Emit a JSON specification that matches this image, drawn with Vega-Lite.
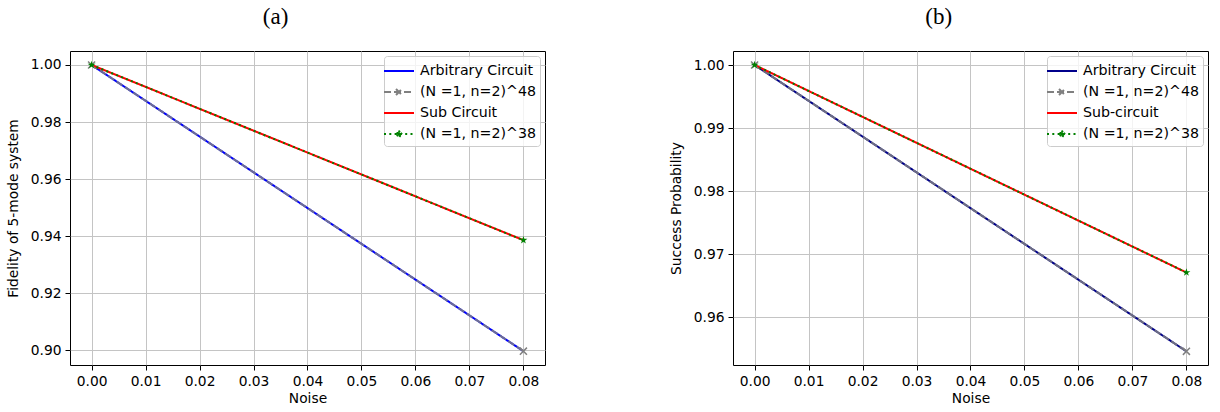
{
  "$schema": "https://vega.github.io/schema/vega-lite/v6.json",
  "padding": {"left": 5, "top": 5, "right": 5, "bottom": 5},
  "background": "white",
  "datasets": {
    "a": [
      {"series": "Arbitrary Circuit", "noise": 0.0, "value": 1.0},
      {"series": "Arbitrary Circuit", "noise": 0.08, "value": 0.8997},
      {"series": "(N =1, n=2)^48", "noise": 0.0, "value": 1.0},
      {"series": "(N =1, n=2)^48", "noise": 0.08, "value": 0.8997},
      {"series": "Sub Circuit", "noise": 0.0, "value": 1.0},
      {"series": "Sub Circuit", "noise": 0.08, "value": 0.9386},
      {"series": "(N =1, n=2)^38", "noise": 0.0, "value": 1.0},
      {"series": "(N =1, n=2)^38", "noise": 0.08, "value": 0.9386}
    ],
    "b": [
      {"series": "Arbitrary Circuit", "noise": 0.0, "value": 1.0},
      {"series": "Arbitrary Circuit", "noise": 0.08, "value": 0.9546},
      {"series": "(N =1, n=2)^48", "noise": 0.0, "value": 1.0},
      {"series": "(N =1, n=2)^48", "noise": 0.08, "value": 0.9546},
      {"series": "Sub-circuit", "noise": 0.0, "value": 1.0},
      {"series": "Sub-circuit", "noise": 0.08, "value": 0.9671},
      {"series": "(N =1, n=2)^38", "noise": 0.0, "value": 1.0},
      {"series": "(N =1, n=2)^38", "noise": 0.08, "value": 0.9671}
    ]
  },
  "config": {
    "font": "DejaVu Sans",
    "view": {"stroke": "#000000", "strokeWidth": 1},
    "axis": {
      "domain": false,
      "grid": true,
      "gridColor": "#c4c4c4",
      "gridWidth": 1,
      "tickColor": "#000000",
      "tickSize": 5,
      "tickWidth": 1,
      "labelFont": "DejaVu Sans",
      "labelFontSize": 13.8,
      "labelColor": "#000000",
      "labelPadding": 4,
      "titleFont": "DejaVu Sans",
      "titleFontSize": 13.8,
      "titleFontWeight": "normal",
      "titleColor": "#000000"
    },
    "legend": {
      "orient": "top-right",
      "offset": 5,
      "padding": 4,
      "strokeColor": "#cccccc",
      "fillColor": "rgba(255,255,255,0.8)",
      "cornerRadius": 3,
      "labelFont": "DejaVu Sans",
      "labelFontSize": 14.2,
      "labelColor": "#000000",
      "labelOffset": 10,
      "symbolType": "M-1.5,0L1.5,0",
      "symbolSize": 400,
      "symbolStrokeWidth": 2,
      "rowPadding": 2
    },
    "title": {
      "font": "Liberation Serif",
      "fontSize": 23,
      "fontWeight": "normal",
      "color": "#000000",
      "anchor": "middle",
      "frame": "bounds",
      "offset": 22
    }
  },
  "resolve": {
    "scale": {"color": "independent", "strokeDash": "independent", "x": "independent", "y": "independent"},
    "legend": {"color": "independent", "strokeDash": "independent"}
  },
  "spacing": 122,
  "hconcat": [
    {
      "title": "(a)",
      "width": 475,
      "height": 314,
      "data": {"name": "a"},
      "encoding": {
        "x": {"field": "noise", "type": "quantitative", "title": "Noise",
              "scale": {"domain": [-0.004, 0.084], "nice": false, "zero": false},
              "axis": {"values": [0, 0.01, 0.02, 0.03, 0.04, 0.05, 0.06, 0.07, 0.08], "format": ".2f"}},
        "y": {"field": "value", "type": "quantitative", "title": "Fidelity of 5-mode system",
              "scale": {"domain": [0.89484, 1.0049], "nice": false, "zero": false},
              "axis": {"values": [0.9, 0.92, 0.94, 0.96, 0.98, 1.0], "format": ".2f", "titlePadding": 10}}
      },
      "layer": [
        {
          "transform": [{"filter": "datum.series === 'Arbitrary Circuit'"}],
          "mark": {"type": "line", "strokeWidth": 2},
          "encoding": {
            "color": {"field": "series", "type": "nominal",
                      "scale": {"domain": ["Arbitrary Circuit", "(N =1, n=2)^48", "Sub Circuit", "(N =1, n=2)^38"],
                                "range": ["#0000ff", "#808080", "#ff0000", "#008000"]},
                      "legend": {"title": null,
                                 "encode": {"symbols": {"update": {
                                   "shape": {"signal": "datum.value === '(N =1, n=2)^48' ? 'M-1.5,0L1.5,0M-0.3,-0.3L0.3,0.3M-0.3,0.3L0.3,-0.3' : datum.value === '(N =1, n=2)^38' ? 'M-1.5,0L1.5,0M0,-0.35L0.079,-0.108L0.333,-0.108L0.127,0.041L0.206,0.283L0,0.134L-0.206,0.283L-0.127,0.041L-0.333,-0.108L-0.079,-0.108Z' : 'M-1.5,0L1.5,0'"},
                                   "fill": {"signal": "datum.value === '(N =1, n=2)^38' ? '#008000' : 'transparent'"}
                                 }}}}},
            "strokeDash": {"field": "series", "type": "nominal",
                      "scale": {"domain": ["Arbitrary Circuit", "(N =1, n=2)^48", "Sub Circuit", "(N =1, n=2)^38"],
                                "range": [[1, 0], [7, 3], [1, 0], [2, 3.3]]},
                      "legend": {"title": null}}
          }
        },
        {
          "transform": [{"filter": "datum.series === '(N =1, n=2)^48'"}],
          "mark": {"type": "line", "strokeWidth": 2, "opacity": 0.85},
          "encoding": {
            "color": {"field": "series", "type": "nominal"},
            "strokeDash": {"field": "series", "type": "nominal"}
          }
        },
        {
          "transform": [{"filter": "datum.series === 'Sub Circuit'"}],
          "mark": {"type": "line", "strokeWidth": 2},
          "encoding": {
            "color": {"field": "series", "type": "nominal"},
            "strokeDash": {"field": "series", "type": "nominal"}
          }
        },
        {
          "transform": [{"filter": "datum.series === '(N =1, n=2)^38'"}],
          "mark": {"type": "line", "strokeWidth": 2},
          "encoding": {
            "color": {"field": "series", "type": "nominal"},
            "strokeDash": {"field": "series", "type": "nominal"}
          }
        },
        {
          "transform": [{"filter": "datum.series === '(N =1, n=2)^48'"}],
          "mark": {"type": "point", "shape": "M-1,-1L1,1M-1,1L1,-1", "filled": false, "stroke": "#808080", "strokeWidth": 1.5, "size": 50, "opacity": 1},
          "encoding": {}
        },
        {
          "transform": [{"filter": "datum.series === '(N =1, n=2)^38'"}],
          "mark": {"type": "point", "shape": "M0,-1L0.2245,-0.309L0.951,-0.309L0.363,0.118L0.588,0.809L0,0.382L-0.588,0.809L-0.363,0.118L-0.951,-0.309L-0.2245,-0.309Z", "filled": true, "fill": "#008000", "size": 70, "opacity": 1},
          "encoding": {}
        }
      ]
    },
    {
      "title": "(b)",
      "width": 475,
      "height": 314,
      "data": {"name": "b"},
      "encoding": {
        "x": {"field": "noise", "type": "quantitative", "title": "Noise",
              "scale": {"domain": [-0.004, 0.084], "nice": false, "zero": false},
              "axis": {"values": [0, 0.01, 0.02, 0.03, 0.04, 0.05, 0.06, 0.07, 0.08], "format": ".2f"}},
        "y": {"field": "value", "type": "quantitative", "title": "Success Probability",
              "scale": {"domain": [0.95243, 1.00222], "nice": false, "zero": false},
              "axis": {"values": [0.96, 0.97, 0.98, 0.99, 1.0], "format": ".2f", "titlePadding": 10}}
      },
      "layer": [
        {
          "transform": [{"filter": "datum.series === 'Arbitrary Circuit'"}],
          "mark": {"type": "line", "strokeWidth": 2},
          "encoding": {
            "color": {"field": "series", "type": "nominal",
                      "scale": {"domain": ["Arbitrary Circuit", "(N =1, n=2)^48", "Sub-circuit", "(N =1, n=2)^38"],
                                "range": ["#00008b", "#808080", "#ff0000", "#008000"]},
                      "legend": {"title": null,
                                 "encode": {"symbols": {"update": {
                                   "shape": {"signal": "datum.value === '(N =1, n=2)^48' ? 'M-1.5,0L1.5,0M-0.3,-0.3L0.3,0.3M-0.3,0.3L0.3,-0.3' : datum.value === '(N =1, n=2)^38' ? 'M-1.5,0L1.5,0M0,-0.35L0.079,-0.108L0.333,-0.108L0.127,0.041L0.206,0.283L0,0.134L-0.206,0.283L-0.127,0.041L-0.333,-0.108L-0.079,-0.108Z' : 'M-1.5,0L1.5,0'"},
                                   "fill": {"signal": "datum.value === '(N =1, n=2)^38' ? '#008000' : 'transparent'"}
                                 }}}}},
            "strokeDash": {"field": "series", "type": "nominal",
                      "scale": {"domain": ["Arbitrary Circuit", "(N =1, n=2)^48", "Sub-circuit", "(N =1, n=2)^38"],
                                "range": [[1, 0], [7, 3], [1, 0], [2, 3.3]]},
                      "legend": {"title": null}}
          }
        },
        {
          "transform": [{"filter": "datum.series === '(N =1, n=2)^48'"}],
          "mark": {"type": "line", "strokeWidth": 2, "opacity": 0.85},
          "encoding": {
            "color": {"field": "series", "type": "nominal"},
            "strokeDash": {"field": "series", "type": "nominal"}
          }
        },
        {
          "transform": [{"filter": "datum.series === 'Sub-circuit'"}],
          "mark": {"type": "line", "strokeWidth": 2},
          "encoding": {
            "color": {"field": "series", "type": "nominal"},
            "strokeDash": {"field": "series", "type": "nominal"}
          }
        },
        {
          "transform": [{"filter": "datum.series === '(N =1, n=2)^38'"}],
          "mark": {"type": "line", "strokeWidth": 2},
          "encoding": {
            "color": {"field": "series", "type": "nominal"},
            "strokeDash": {"field": "series", "type": "nominal"}
          }
        },
        {
          "transform": [{"filter": "datum.series === '(N =1, n=2)^48'"}],
          "mark": {"type": "point", "shape": "M-1,-1L1,1M-1,1L1,-1", "filled": false, "stroke": "#808080", "strokeWidth": 1.5, "size": 50, "opacity": 1},
          "encoding": {}
        },
        {
          "transform": [{"filter": "datum.series === '(N =1, n=2)^38'"}],
          "mark": {"type": "point", "shape": "M0,-1L0.2245,-0.309L0.951,-0.309L0.363,0.118L0.588,0.809L0,0.382L-0.588,0.809L-0.363,0.118L-0.951,-0.309L-0.2245,-0.309Z", "filled": true, "fill": "#008000", "size": 70, "opacity": 1},
          "encoding": {}
        }
      ]
    }
  ]
}
